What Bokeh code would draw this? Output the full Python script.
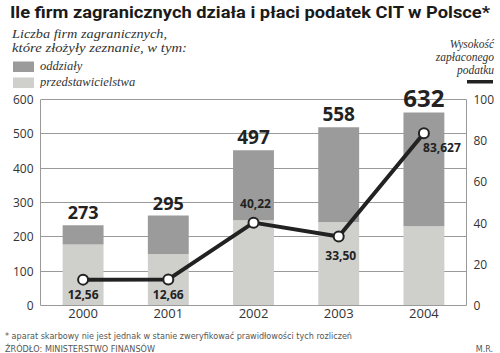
from bokeh.plotting import figure
from bokeh.models import (ColumnDataSource, FactorRange, Range1d, LinearAxis,
                          LabelSet, FixedTicker, Div)
from bokeh.layouts import column
from bokeh.core.properties import value
from bokeh.embed import file_html
from bokeh.resources import INLINE

# ---------------- data ----------------
years = ["2000", "2001", "2002", "2003", "2004"]
przedstawicielstwa = [178, 150, 248, 243, 231]   # light part of bars (as drawn)
oddzialy = [56, 112, 204, 276, 331]              # dark part of bars (as drawn)
total_labels = ["273", "295", "497", "558", "632"]
tax = [12.56, 12.66, 40.22, 33.50, 83.627]
tax_labels = ["12,56", "12,66", "40,22", "33,50", "83,627"]
left_ticks = [0, 100, 200, 300, 400, 500, 600]
right_ticks = [0, 20, 40, 60, 80, 100]

title_text = "Ile firm zagranicznych działa i płaci podatek CIT w Polsce*"
subtitle_lines = ["Liczba firm zagranicznych,", "które złożyły zeznanie, w tym:"]
legend_labels = ["oddziały", "przedstawicielstwa"]
right_title_lines = ["Wysokość", "zapłaconego", "podatku"]
footnote = "* aparat skarbowy nie jest jednak w stanie zweryfikować prawidłowości tych rozliczeń"
source_text = "ŹRÓDŁO: MINISTERSTWO FINANSÓW"
author = "M.R."

# ---------------- styles / layout ----------------
DARK = "#9b9b9b"
LIGHT = "#cfcfcc"
INK = "#222222"
GRID = "#9a9a9a"
NUM_FONT = "Open Sans"
SERIF = "Liberation Serif"
W, H = 500, 353
HEAD_H = 88            # header strip height
FOOT_TOP = 325         # footer strip starts here
FRAME_L, FRAME_R = 40, 466
TOP600, FRAME_B = 99, 305   # pixel rows of value 600 and value 0

# y range extended so that 600 sits at TOP600 while the frame starts at HEAD_H
ymax = 600 * (FRAME_B - HEAD_H) / (FRAME_B - TOP600)

totals = [a + b for a, b in zip(przedstawicielstwa, oddzialy)]
src = ColumnDataSource(dict(
    year=years, light=przedstawicielstwa, dark=oddzialy, total=totals,
    tlabel=total_labels, tsize=["18px", "18px", "19px", "19px", "24px"],
    tax=tax, taxlabel=tax_labels,
    dx=[0, 0, 2, 2, 18], dy=[-15, -15, 19, -19, -14],
))

p = figure(width=W, height=FOOT_TOP - HEAD_H, x_range=FactorRange(factors=years),
           y_range=Range1d(0, ymax), output_backend="svg", toolbar_location=None,
           min_border_left=FRAME_L, min_border_right=W - FRAME_R,
           min_border_top=0, min_border_bottom=FOOT_TOP - FRAME_B, margin=0)
p.x_range.range_padding = 0
p.background_fill_color = "white"
p.border_fill_color = "white"
p.outline_line_color = None

p.extra_y_ranges = {"tax": Range1d(0, ymax / 6)}

p.xgrid.grid_line_color = None
p.ygrid.grid_line_color = GRID
p.ygrid.ticker = FixedTicker(ticks=left_ticks)

for ax in [p.xaxis[0], p.yaxis[0]]:
    ax.axis_line_color = GRID
    ax.major_tick_line_color = None
    ax.minor_tick_line_color = None
    ax.major_tick_out = 0
    ax.major_tick_in = 0
    ax.major_label_text_font = NUM_FONT
    ax.major_label_text_color = "#333333"

p.yaxis.ticker = FixedTicker(ticks=left_ticks)
p.yaxis.bounds = (0, 600)
p.yaxis.major_label_text_font_size = "12px"
p.yaxis.major_label_standoff = 7
p.xaxis.major_label_text_font_size = "13px"
p.xaxis.major_label_standoff = 3

rax = LinearAxis(y_range_name="tax", ticker=FixedTicker(ticks=right_ticks), bounds=(0, 100))
rax.axis_line_color = GRID
rax.major_tick_line_color = None
rax.minor_tick_line_color = None
rax.major_tick_out = 0
rax.major_tick_in = 0
rax.major_label_text_font = NUM_FONT
rax.major_label_text_color = "#333333"
rax.major_label_text_font_size = "12px"
rax.major_label_standoff = 7
p.add_layout(rax, "right")

bars = p.vbar_stack(["light", "dark"], x="year", width=0.48, color=[LIGHT, DARK],
                    line_color=None, source=src)

p.line(x="year", y="tax", y_range_name="tax", line_width=4, color=INK, source=src)
p.scatter(x="year", y="tax", y_range_name="tax", size=10, fill_color="white",
          line_color=INK, line_width=2, source=src)

p.add_layout(LabelSet(x="year", y="total", text="tlabel", source=src, y_offset=6,
                      text_align="center", text_baseline="alphabetic",
                      text_font=value(NUM_FONT), text_font_style="bold",
                      text_font_size="tsize", text_color=INK))
p.add_layout(LabelSet(x="year", y="tax", y_range_name="tax", text="taxlabel", source=src,
                      x_offset="dx", y_offset="dy", text_align="center",
                      text_baseline="middle", text_font=value(NUM_FONT),
                      text_font_style="bold", text_font_size="12px", text_color=INK))

# ---------------- header (title, subtitle, legend) and footer ----------------
def t(x, y, s, font=SERIF, size=12, weight="normal", style="italic", anchor="start",
      color="#333333", length=None):
    extra = f' textLength="{length}" lengthAdjust="spacingAndGlyphs"' if length else ""
    css = (f"font-family:'{font}';font-size:{size}px;font-weight:{weight};"
           f"font-style:{style};fill:{color}")
    return (f'<text x="{x}" y="{y}" text-anchor="{anchor}" style="{css}"{extra}>'
            f'{s}</text>')

head = [
    t(10, 18.3, title_text, font="Roboto", size=17, weight="bold", style="normal",
      color="#1a1a1a", length=480),
    t(12, 38.3, subtitle_lines[0], length=155),
    t(12, 51.7, subtitle_lines[1], length=175),
    f'<rect x="13" y="61.5" width="21" height="10.5" fill="{DARK}"/>',
    f'<rect x="13" y="77.5" width="21" height="10.5" fill="{LIGHT}"/>',
    t(40, 70, legend_labels[0], size=12.5),
    t(40, 86, legend_labels[1], size=12.5),
    t(494, 47.5, right_title_lines[0], size=11.5, anchor="end"),
    t(494, 60.5, right_title_lines[1], size=11.5, anchor="end"),
    t(494, 73.5, right_title_lines[2], size=11.5, anchor="end"),
    f'<rect x="467" y="80" width="26" height="3.5" fill="{INK}"/>',
]
header = Div(text=f'<svg xmlns="http://www.w3.org/2000/svg" width="{W}" height="{HEAD_H}" '
                  f'style="display:block">' + "".join(head) + '</svg>',
             width=W, height=HEAD_H, margin=0)

foot = [
    t(5, 339 - FOOT_TOP, footnote, font="DejaVu Sans", size=8, style="normal",
      color="#555555", length=347),
    t(5, 351.5 - FOOT_TOP, source_text, font="DejaVu Sans", size=8, style="normal",
      color="#555555", length=150),
    t(493, 351.5 - FOOT_TOP, author, font="DejaVu Sans", size=8, style="normal",
      color="#555555", anchor="end"),
]
footer = Div(text=f'<svg xmlns="http://www.w3.org/2000/svg" width="{W}" height="{H - FOOT_TOP}" '
                  f'style="display:block">' + "".join(foot) + '</svg>',
             width=W, height=H - FOOT_TOP, margin=0)

layout = column(header, p, footer, spacing=0, margin=0)
open("out.html", "w").write(file_html(layout, INLINE))
